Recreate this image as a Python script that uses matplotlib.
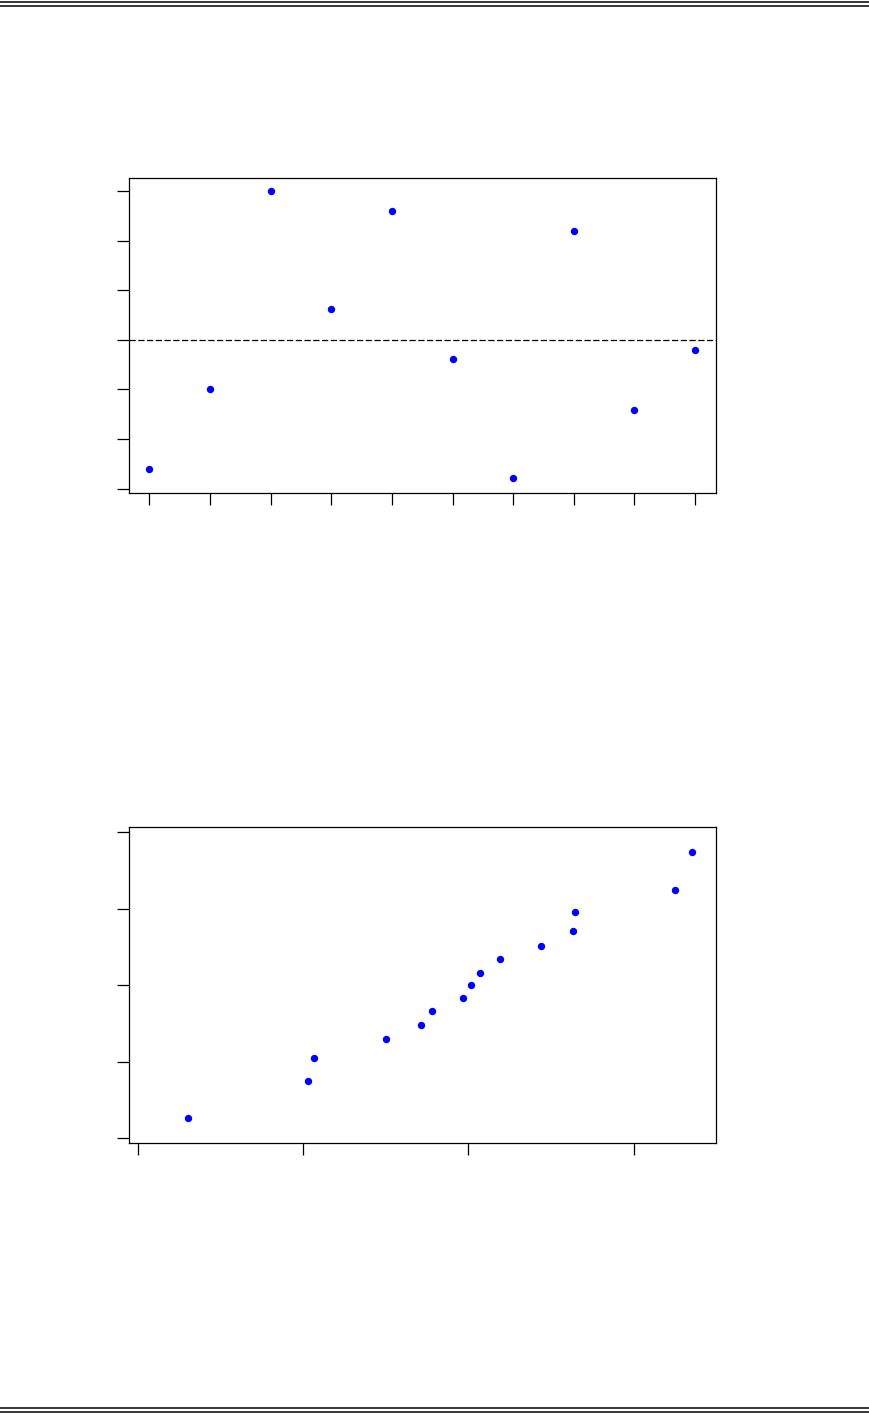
import numpy as np
import matplotlib
matplotlib.use("Agg")
import matplotlib.pyplot as plt
from matplotlib.lines import Line2D

# top panel: index plot of residuals
idx = np.arange(1, 11)
resid = [-2.61, -1.00, 3.00, 0.62, 2.60, -0.39, -2.79, 2.20, -1.42, -0.20]

# bottom panel: quantile-quantile style plot
q_x = [0.307, 1.032, 1.068, 1.502, 1.711, 1.778, 1.965, 2.013, 2.068,
       2.190, 2.440, 2.633, 2.642, 3.250, 3.352]
q_y = [0.261, 0.749, 1.050, 1.294, 1.481, 1.660, 1.838, 2.004, 2.165,
       2.344, 2.518, 2.706, 2.954, 3.250, 3.739]

W, H = 870, 1414
fig = plt.figure(figsize=(W / 100, H / 100), dpi=100)


def style(ax):
    for s in ax.spines.values():
        s.set_linewidth(0.9)
    ax.tick_params(direction="out", length=8.6, width=0.9,
                   labelbottom=False, labelleft=False)


# top panel
ax1 = fig.add_axes([129.3 / W, 1 - 493 / H, (715.7 - 129.3) / W, (493 - 178) / H])
ax1.plot(idx, resid, "o", color="#0000ff", ms=4.3, mec="#0000ff")
ax1.axhline(0, color="black", lw=0.9, linestyle=(0, (5, 2)))
ax1.set_xlim(0.67, 10.34)
ax1.set_ylim(-3.09, 3.27)
ax1.set_xticks(idx)
ax1.set_yticks(np.arange(-3, 4))
style(ax1)

# bottom panel
ax2 = fig.add_axes([129.3 / W, 1 - 1143 / H, (715.7 - 129.3) / W, (1143 - 827.3) / H])
ax2.plot(q_x, q_y, "o", color="#0000ff", ms=4.3, mec="#0000ff")
ax2.set_xlim(-0.05, 3.494)
ax2.set_ylim(-0.061, 4.065)
ax2.set_xticks([0, 1, 2, 3])
ax2.set_yticks([0, 1, 2, 3, 4])
style(ax2)

# page rules, top and bottom
for ypx in [2, 6, 1408, 1412]:
    fig.add_artist(Line2D([0, 1], [1 - ypx / H, 1 - ypx / H],
                          transform=fig.transFigure, color="black", lw=1.1))

fig.savefig("out.png", dpi=100)
